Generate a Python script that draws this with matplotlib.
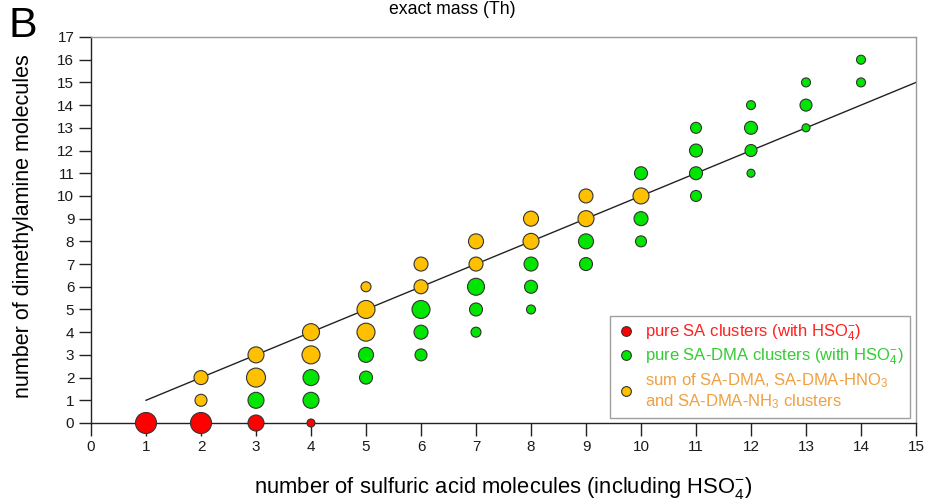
import matplotlib
matplotlib.use("Agg")
import matplotlib.pyplot as plt
from matplotlib.lines import Line2D

plt.rcParams['font.family'] = ['Liberation Sans', 'DejaVu Sans']
plt.rcParams['mathtext.fontset'] = 'custom'
plt.rcParams['mathtext.rm'] = 'Liberation Sans'
plt.rcParams['mathtext.it'] = 'Liberation Sans:italic'

# ---- data ----
# pure SA clusters (with HSO4-): sulfuric acid count, DMA count, relative signal (marker diameter, px)
red_sa = [1, 2, 3, 4]
red_dma = [0, 0, 0, 0]
red_signal = [21, 21, 16, 8]

# pure SA-DMA clusters (with HSO4-)
green_sa = [3, 4, 4, 5, 5, 6, 6, 6, 7, 7, 7, 8, 8, 8, 9, 9,
            10, 10, 10, 11, 11, 11, 11, 12, 12, 12, 12, 13, 13, 13, 14, 14]
green_dma = [1, 2, 1, 3, 2, 5, 4, 3, 6, 5, 4, 7, 6, 5, 8, 7,
             11, 9, 8, 13, 12, 11, 10, 14, 13, 12, 11, 15, 14, 13, 16, 15]
green_signal = [16, 16, 16, 15, 13, 18, 14, 12, 17, 13, 10, 14, 13, 9, 15, 13,
                13, 14, 11, 11, 13, 13, 11, 9, 13, 12, 8, 9, 12, 8, 9, 9]

# sum of SA-DMA, SA-DMA-HNO3 and SA-DMA-NH3 clusters
orange_sa = [2, 2, 3, 3, 4, 4, 5, 5, 5, 6, 6, 7, 7, 8, 8, 9, 9, 10]
orange_dma = [2, 1, 3, 2, 4, 3, 6, 5, 4, 7, 6, 8, 7, 9, 8, 10, 9, 10]
orange_signal = [14, 12, 16, 19, 17, 18, 10, 18, 18, 14, 14, 15, 14, 15, 16, 14, 16, 16]

# 1:1 reference line
line_x = [1, 15]
line_y = [1, 15]

xticks = list(range(0, 16))
yticks = list(range(0, 18))

labels = [r"pure SA clusters (with HSO$_4^{-}$)",
          r"pure SA-DMA clusters (with HSO$_4^{-}$)",
          "sum of SA-DMA, SA-DMA-HNO$_3$\nand SA-DMA-NH$_3$ clusters"]

# ---- figure ----
DPI = 100
fig = plt.figure(figsize=(9.3, 5.04), dpi=DPI)
ax = fig.add_axes([91/930, 1-423/504, 825/930, 386/504])

px2pt = 72.0 / DPI

def sizes(sig):
    return [(d * px2pt) ** 2 for d in sig]

ax.plot(line_x, line_y, color='#222222', lw=1.0, zorder=2)

red_c = '#ff0000'
green_c = '#00e600'
orange_c = '#ffc000'
edge = '#333333'

ax.scatter(red_sa, red_dma, s=sizes(red_signal), c=red_c, edgecolors=edge,
           linewidths=0.8, zorder=4, clip_on=False)
ax.scatter(green_sa, green_dma, s=sizes(green_signal), c=green_c, edgecolors=edge,
           linewidths=0.8, zorder=3, clip_on=False)
ax.scatter(orange_sa, orange_dma, s=sizes(orange_signal), c=orange_c, edgecolors=edge,
           linewidths=0.8, zorder=3, clip_on=False)

ax.set_xlim(0, 15)
ax.set_ylim(0, 17)
ax.set_xticks(xticks)
ax.set_yticks(yticks)
ax.tick_params(axis='both', direction='out', length=9, width=1.0, color='#222222',
               labelsize=11, labelcolor='#1a1a1a', pad=3)

for side in ['top', 'right']:
    ax.spines[side].set_color('#999999')
    ax.spines[side].set_linewidth(1.0)
for side in ['left', 'bottom']:
    ax.spines[side].set_color('#222222')
    ax.spines[side].set_linewidth(1.0)

ax.set_xlabel(r"number of sulfuric acid molecules (including HSO$_4^{-}$)",
              fontsize=15.8, va='center')
ax.xaxis.set_label_coords(0.5, -(488 - 423) / 386)
ax.set_ylabel("number of dimethylamine molecules", fontsize=15.5, va='center')
ax.yaxis.set_label_coords(-(91 - 24) / 825, 0.51)

fig.text(452/930, 1-10/504, "exact mass (Th)", fontsize=12.7, ha='center', va='center')
fig.text(8/930, 1-26/504, "B", fontsize=31, ha='left', va='center')

handles = [Line2D([], [], marker='o', ls='none', markersize=7, markerfacecolor=c,
                  markeredgecolor=edge, markeredgewidth=0.8)
           for c in (red_c, green_c, orange_c)]
leg = ax.legend(handles, labels, loc='lower right', bbox_to_anchor=(0.993, 0.013),
                frameon=True, fancybox=False, edgecolor='#888888', fontsize=12,
                handletextpad=0.5, labelspacing=0.22, borderpad=0.4,
                handlelength=1.2, borderaxespad=0)
leg.get_frame().set_linewidth(1.0)
for t, col in zip(leg.get_texts(), ('#ff2020', '#33cc33', '#f0a040')):
    t.set_color(col)

fig.savefig("out.png", dpi=DPI)
